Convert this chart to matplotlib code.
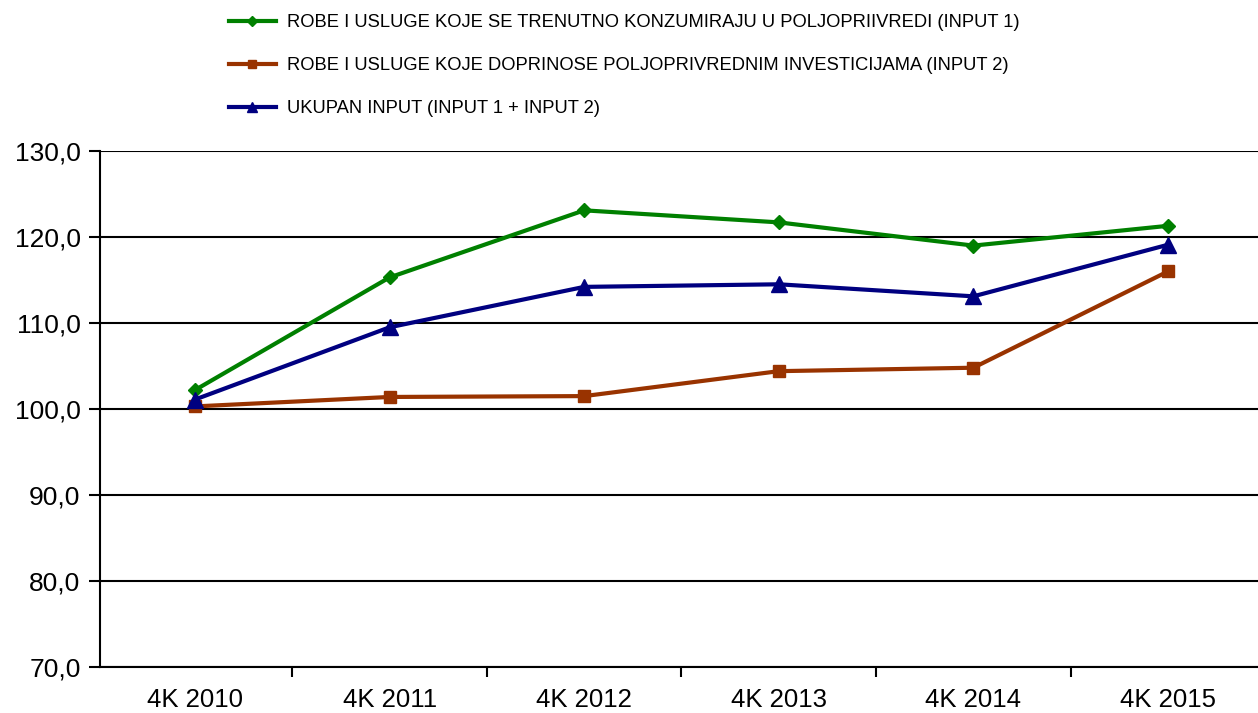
import matplotlib.pyplot as plt

plt.rcParams['font.family'] = ['Liberation Sans', 'DejaVu Sans']

kvartali = ['4K 2010', '4K 2011', '4K 2012', '4K 2013', '4K 2014', '4K 2015']
input1 = [102.2, 115.3, 123.1, 121.7, 119.0, 121.3]
input2 = [100.3, 101.4, 101.5, 104.4, 104.8, 116.0]
ukupno = [101.1, 109.5, 114.2, 114.5, 113.1, 119.1]

nazivi = ['ROBE I USLUGE KOJE SE TRENUTNO KONZUMIRAJU U POLJOPRIIVREDI (INPUT 1)',
          'ROBE I USLUGE KOJE DOPRINOSE POLJOPRIVREDNIM INVESTICIJAMA (INPUT 2)',
          'UKUPAN INPUT (INPUT 1 + INPUT 2)']

fig = plt.figure(figsize=(12.58, 7.13), dpi=100)
ax = fig.add_axes([100 / 1258, 1 - 667 / 713, 1158 / 1258, 516 / 713])

x = range(len(kvartali))
ax.plot(x, input1, color='#008000', lw=3, marker='D', ms=7, label=nazivi[0], zorder=3)
ax.plot(x, input2, color='#993300', lw=3, marker='s', ms=9, label=nazivi[1], zorder=3)
ax.plot(x, ukupno, color='#000080', lw=3, marker='^', ms=11, label=nazivi[2], zorder=4)

ax.set_ylim(70, 130)
ax.set_xlim(-0.488, 5.4625)
ax.set_yticks(range(70, 131, 10))
ax.set_yticklabels([f'{v},0' for v in range(70, 131, 10)])
ax.set_xticks(list(x))
ax.set_xticklabels(kvartali)
ax.set_xticks([i - 0.5 for i in range(1, 6)], minor=True)
ax.tick_params(axis='x', which='major', length=0, labelsize=18.5, pad=15)
ax.tick_params(axis='x', which='minor', length=7, width=1.5)
ax.tick_params(axis='y', length=8, width=1.5, labelsize=19, pad=6)
ax.grid(axis='y', color='black', lw=1.5)
ax.set_axisbelow(True)
for s in ['top', 'right']:
    ax.spines[s].set_visible(False)
ax.spines['left'].set_linewidth(1.5)
ax.spines['bottom'].set_linewidth(1.5)

fig.legend(loc='upper left', bbox_to_anchor=(212 / 1258, 1.003), frameon=False,
           fontsize=13.2, handlelength=2.6, handletextpad=0.6, labelspacing=1.42,
           markerscale=0.7, numpoints=1)

fig.savefig('out.png', dpi=100)
